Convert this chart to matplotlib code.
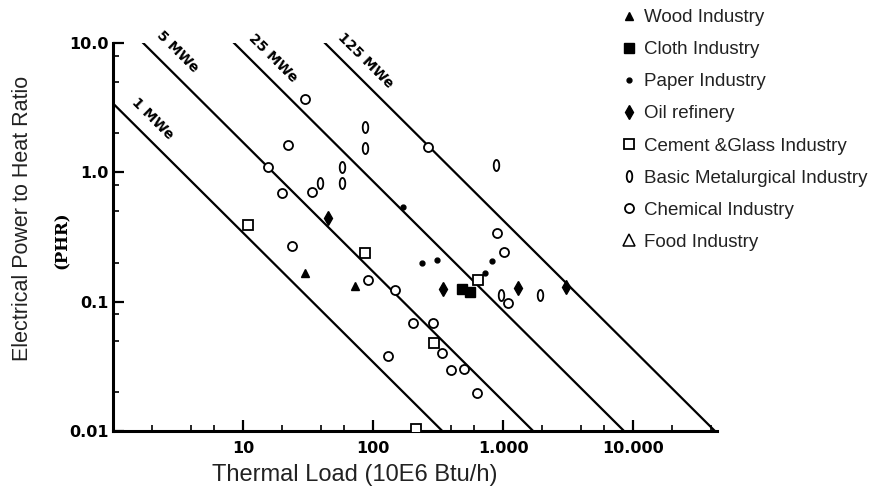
"""
Electrical power to heat ratio vs thermal load, by industry,
with iso-power lines (1, 5, 25, 125 MWe).
"""
import numpy as np
import matplotlib
matplotlib.use("Agg")
import matplotlib.pyplot as plt
from matplotlib.lines import Line2D

# ── data (Q in 10E6 Btu/h, PHR) ─────────────────────────────────
wood_q  = [30, 73]
wood_phr = [0.166, 0.131]

cloth_q   = [484, 557]
cloth_phr = [0.125, 0.118]

paper_q   = [170, 238, 310, 822, 727]
paper_phr = [0.54, 0.20, 0.21, 0.205, 0.166]

oil_q   = [45, 346, 1303, 3055]
oil_phr = [0.44, 0.125, 0.127, 0.129]

cement_q   = [10.9, 87, 644, 295, 215]
cement_phr = [0.39, 0.236, 0.146, 0.048, 0.0103]

metal_q   = [87, 87, 58, 58, 39, 883, 966, 1928]
metal_phr = [2.23, 1.53, 1.09, 0.82, 0.82, 1.13, 0.112, 0.112]

chem_q   = [30, 22, 15.5, 20, 34, 23.8, 91, 148, 130, 265,
            900, 1019, 1093, 204, 290, 340, 400, 500, 630]
chem_phr = [3.7, 1.62, 1.09, 0.69, 0.70, 0.27, 0.146, 0.124, 0.038, 1.56,
            0.337, 0.24, 0.097, 0.068, 0.068, 0.040, 0.0295, 0.030, 0.0195]

food_q   = []
food_phr = []

power_mwe    = [1, 5, 25, 125]
power_labels = ["1 MWe", "5 MWe", "25 MWe", "125 MWe"]
label_q      = [2.0, 3.16, 17, 88]
label_phr    = [2.6, 8.5, 7.7, 7.35]

x_ticks  = [10, 100, 1000, 10000]
x_labels = ["10", "100", "1.000", "10.000"]
y_ticks  = [0.01, 0.1, 1, 10]
y_labels = ["0.01", "0.1", "1.0", "10.0"]

MMBTU_PER_MW = 3.412

# ── figure ─────────────────────────────────────────────────────
W, H = 892, 499
fig = plt.figure(figsize=(W / 100, H / 100), dpi=100, facecolor="white")
ax = fig.add_axes([113 / W, 1 - 431 / H, 604 / W, 388 / H])
ax.set_xscale("log")
ax.set_yscale("log")
ax.set_xlim(1, 10 ** 4.646)
ax.set_ylim(0.01, 10)

# iso-power lines
q = np.logspace(0, 4.7, 300)
for p in power_mwe:
    ax.plot(q, MMBTU_PER_MW * p / q, color="black", lw=1.6, zorder=2)

for txt, lq, lp in zip(power_labels, label_q, label_phr):
    ax.text(lq, lp, txt, rotation=-44.8, rotation_mode="anchor",
            ha="center", va="center", fontsize=10, fontweight="bold",
            family="DejaVu Sans", clip_on=False)

# metallurgical marker: narrow vertical oval
t = np.linspace(0, 2 * np.pi, 40)
oval = list(zip(0.5 * np.cos(t), np.sin(t)))

styles = [
    ("Wood Industry", wood_q, wood_phr, dict(marker="^", ms=6, mfc="black", mec="black")),
    ("Cloth Industry", cloth_q, cloth_phr, dict(marker="s", ms=6.5, mfc="black", mec="black")),
    ("Paper Industry", paper_q, paper_phr, dict(marker="o", ms=3.5, mfc="black", mec="black")),
    ("Oil refinery", oil_q, oil_phr, dict(marker="d", ms=7.5, mfc="black", mec="black")),
    ("Cement &Glass Industry", cement_q, cement_phr, dict(marker="s", ms=6.5, mfc="white", mec="black", mew=1.3)),
    ("Basic Metalurgical Industry", metal_q, metal_phr, dict(marker=oval, ms=8, mfc="white", mec="black", mew=1.3)),
    ("Chemical Industry", chem_q, chem_phr, dict(marker="o", ms=6.5, mfc="white", mec="black", mew=1.3)),
    ("Food Industry", food_q, food_phr, dict(marker="^", ms=9, mfc="white", mec="black", mew=1.1)),
]

handles = []
for name, xs, ys, st in styles:
    ax.plot(xs, ys, ls="none", zorder=3, **st)
    handles.append(Line2D([], [], ls="none", label=name, **st))

# ── axes styling ───────────────────────────────────────────────
for s in ("top", "right"):
    ax.spines[s].set_visible(False)
for s in ("left", "bottom"):
    ax.spines[s].set_linewidth(2.2)

ax.set_xticks(x_ticks, labels=x_labels)
ax.set_yticks(y_ticks, labels=y_labels)
ax.xaxis.set_minor_locator(matplotlib.ticker.LogLocator(base=10, subs=(2, 4, 6)))
ax.yaxis.set_minor_locator(matplotlib.ticker.LogLocator(base=10, subs=(2, 5, 8)))
ax.xaxis.set_minor_formatter(matplotlib.ticker.NullFormatter())
ax.yaxis.set_minor_formatter(matplotlib.ticker.NullFormatter())
ax.tick_params(which="major", direction="in", length=8, width=1.6)
ax.tick_params(which="minor", direction="in", length=4, width=1.2)
ax.tick_params(axis="x", which="major", pad=7)
ax.tick_params(axis="y", which="major", pad=3)
for lab in ax.get_xticklabels() + ax.get_yticklabels():
    lab.set_fontfamily("DejaVu Sans")
    lab.set_fontweight("bold")
    lab.set_fontsize(11.5)

# axis titles
fig.text(355 / W, 1 - 475 / H, "Thermal Load (10E6 Btu/h)", ha="center", va="center",
         fontsize=17, family="Liberation Sans", color="#222222")
fig.text(23 / W, 1 - 218 / H, "Electrical Power to Heat Ratio", ha="center", va="center",
         rotation=90, fontsize=15.5, family="Liberation Sans", color="#222222")
fig.text(62 / W, 1 - 240 / H, "(PHR)", ha="center", va="center", rotation=90,
         fontsize=12, family="DejaVu Serif", fontweight="bold")

fig.legend(handles=handles, loc="upper left", bbox_to_anchor=(621 / W, 1 - 9 / H),
           frameon=False, prop={"family": "Liberation Sans", "size": 13.5},
           handlelength=0.9, handletextpad=0.35, labelspacing=0.8,
           borderpad=0, borderaxespad=0, labelcolor="#222222")

fig.savefig("out.png", dpi=100, facecolor="white")
